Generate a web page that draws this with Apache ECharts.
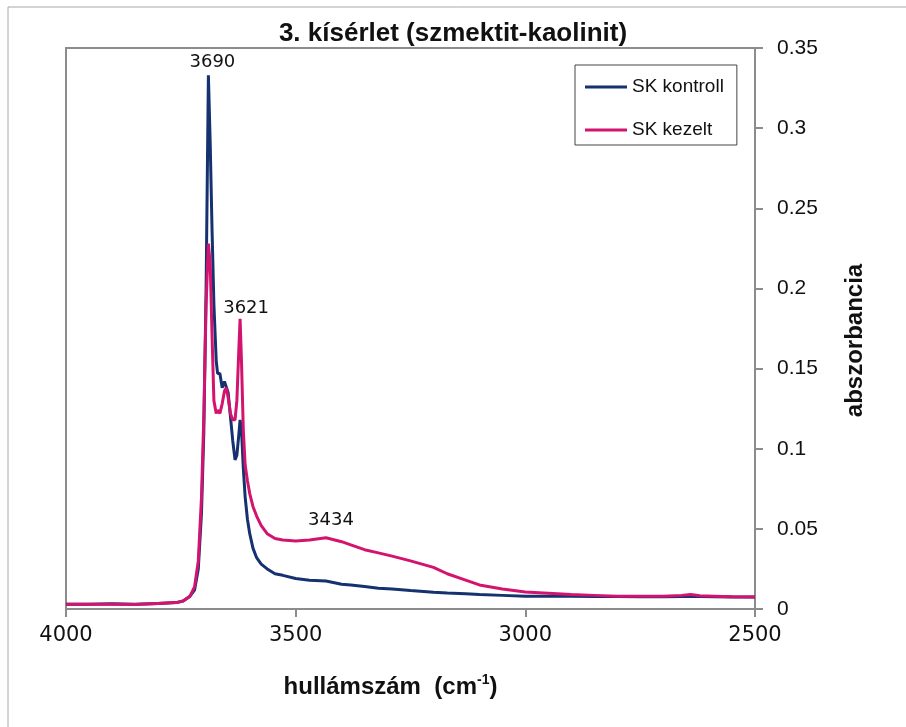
<!DOCTYPE html>
<html>
<head>
<meta charset="utf-8">
<script src="https://cdn.jsdelivr.net/npm/echarts@6/dist/echarts.min.js"></script>
<style>
  html, body { margin: 0; padding: 0; background: #fff; }
  #chart { width: 906px; height: 727px; }
</style>
</head>
<body>
<div id="chart"></div>
<script>
// hullámszám (cm-1)
var wavenumbers = [4000, 3950, 3900, 3850, 3800, 3760, 3745, 3730, 3720, 3712, 3705, 3700, 3695, 3690, 3686, 3682,
  3678, 3673, 3670, 3665, 3660, 3655, 3651, 3647, 3642, 3637, 3632, 3628, 3624, 3621, 3618, 3614, 3610, 3605,
  3600, 3593, 3585, 3575, 3562, 3545, 3528, 3500, 3470, 3434, 3400, 3380, 3350, 3320, 3290, 3250, 3200, 3170,
  3130, 3100, 3050, 3000, 2950, 2900, 2850, 2800, 2750, 2700, 2660, 2640, 2620, 2590, 2550, 2500];

var skKontroll = [0.003, 0.003, 0.0032, 0.003, 0.0035, 0.004, 0.005, 0.008, 0.012, 0.025, 0.06, 0.11, 0.2, 0.333, 0.29, 0.236,
  0.19, 0.155, 0.147, 0.147, 0.138, 0.142, 0.143, 0.135, 0.12, 0.105, 0.093, 0.096, 0.108, 0.118, 0.112, 0.088, 0.07, 0.056,
  0.047, 0.038, 0.032, 0.028, 0.025, 0.022, 0.021, 0.019, 0.018, 0.0175, 0.0155, 0.015, 0.014, 0.013, 0.0125, 0.0115, 0.0105, 0.01,
  0.0095, 0.009, 0.0085, 0.008, 0.008, 0.008, 0.0078, 0.0078, 0.0077, 0.0077, 0.0078, 0.008, 0.0078, 0.0076, 0.0075, 0.0075];

var skKezelt = [0.003, 0.003, 0.003, 0.0028, 0.0035, 0.004, 0.005, 0.008, 0.014, 0.03, 0.07, 0.12, 0.19, 0.228, 0.215, 0.17,
  0.13, 0.122, 0.124, 0.122, 0.128, 0.136, 0.138, 0.132, 0.122, 0.118, 0.118, 0.13, 0.16, 0.181, 0.155, 0.112, 0.09, 0.08,
  0.072, 0.064, 0.058, 0.052, 0.047, 0.044, 0.043, 0.0425, 0.043, 0.0445, 0.042, 0.04, 0.037, 0.035, 0.033, 0.03, 0.026, 0.022,
  0.018, 0.015, 0.0125, 0.0106, 0.0098, 0.009, 0.0085, 0.008, 0.008, 0.008, 0.0085, 0.009, 0.0083, 0.008, 0.0076, 0.0075];

var seriesNames = ['SK kontroll', 'SK kezelt'];
var kontrollPeaks = [3690];
var kezeltPeaks = [3621, 3434];

function pairs(ys) {
  return wavenumbers.map(function (x, i) { return [x, ys[i]]; });
}
function peakMarks(peaks, ys, offsets) {
  return peaks.map(function (p, k) {
    var i = wavenumbers.indexOf(p);
    return { coord: [p, ys[i]], value: String(p), label: { offset: offsets[k] } };
  });
}

var chart = echarts.init(document.getElementById('chart'));
var option = {
  backgroundColor: '#fff',
  animation: false,
  title: {
    text: '3. kísérlet (szmektit-kaolinit)',
    left: 'center',
    top: 16,
    textStyle: { fontFamily: 'Liberation Sans', fontSize: 26, fontWeight: 'bold', color: '#111' }
  },
  graphic: [{
    type: 'rect',
    shape: { x: 8, y: 7, width: 2000, height: 2000 },
    style: { fill: 'none', stroke: '#a8a8a8', lineWidth: 1 },
    silent: true
  }],
  grid: {
    left: 66, right: 151, top: 48, bottom: 118,
    show: true, borderColor: '#8c8c8c', borderWidth: 2, backgroundColor: '#fff'
  },
  legend: {
    orient: 'vertical',
    left: 575, top: 65,
    data: seriesNames,
    icon: 'rect',
    itemWidth: 42, itemHeight: 3, itemGap: 23,
    padding: [12, 13, 5, 10],
    borderColor: '#444', borderWidth: 1,
    textStyle: { fontFamily: 'Liberation Sans', fontSize: 19, color: '#111', lineHeight: 20 }
  },
  xAxis: {
    type: 'value',
    min: 2500, max: 4000, interval: 500,
    inverse: true,
    name: 'hullámszám  (cm{sup|-1})',
    nameLocation: 'middle',
    nameGap: 64,
    nameTextStyle: {
      fontFamily: 'Liberation Sans', fontSize: 24, fontWeight: 'bold', color: '#111',
      padding: [0, 40, 0, 0], lineHeight: 28,
      rich: { sup: { fontFamily: 'Liberation Sans', fontSize: 14, fontWeight: 'bold', color: '#111', verticalAlign: 'top', lineHeight: 14 } }
    },
    axisLine: { lineStyle: { color: '#8c8c8c', width: 2 } },
    axisTick: { length: 8, lineStyle: { color: '#8c8c8c', width: 2 } },
    axisLabel: {
      margin: 16, fontFamily: 'DejaVu Sans', fontSize: 21, color: '#111',
      formatter: function (v) { return String(v); }
    },
    splitLine: { show: false }
  },
  yAxis: {
    type: 'value',
    position: 'right',
    min: 0, max: 0.35, interval: 0.05,
    name: 'abszorbancia',
    nameLocation: 'middle',
    nameRotate: 90,
    nameGap: 88,
    nameTextStyle: { fontFamily: 'Liberation Sans', fontSize: 24, fontWeight: 'bold', color: '#111', padding: [0, 24, 0, 0] },
    axisLine: { show: true, lineStyle: { color: '#8c8c8c', width: 2 } },
    axisTick: { show: true, length: 8, lineStyle: { color: '#8c8c8c', width: 2 } },
    axisLabel: { margin: 22, fontFamily: 'Liberation Sans', fontSize: 21, color: '#111' },
    splitLine: { show: false }
  },
  series: [{
    name: seriesNames[0],
    type: 'line',
    data: pairs(skKontroll),
    symbol: 'none',
    lineStyle: { color: '#15316f', width: 3 },
    itemStyle: { color: '#15316f' },
    markPoint: {
      symbol: 'circle', symbolSize: 0,
      label: { show: true, position: 'top', distance: 4, formatter: '{c}', fontFamily: 'DejaVu Sans', fontSize: 18, color: '#111' },
      data: peakMarks(kontrollPeaks, skKontroll, [[4, 0]])
    }
  }, {
    name: seriesNames[1],
    type: 'line',
    data: pairs(skKezelt),
    symbol: 'none',
    lineStyle: { color: '#d3146f', width: 3 },
    itemStyle: { color: '#d3146f' },
    markPoint: {
      symbol: 'circle', symbolSize: 0,
      label: { show: true, position: 'top', distance: 2, formatter: '{c}', fontFamily: 'DejaVu Sans', fontSize: 18, color: '#111' },
      data: peakMarks(kezeltPeaks, skKezelt, [[6, 0], [5, -6]])
    }
  }]
};
chart.setOption(option);
window.onresize = function () { chart.resize(); };
</script>
</body>
</html>
